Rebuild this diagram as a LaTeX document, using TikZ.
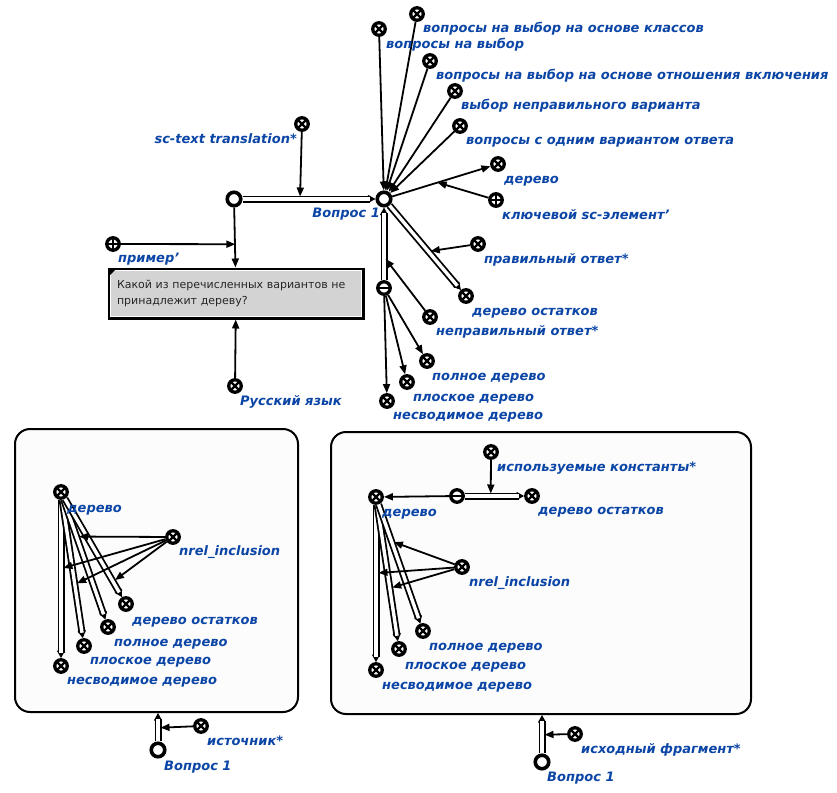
\documentclass[tikz,border=0pt]{standalone}
\usepackage{fontspec}
\setmainfont{DejaVu Sans}
\usetikzlibrary{arrows.meta,calc}
\definecolor{lbl}{HTML}{0B45A6}
\definecolor{boxgray}{HTML}{D3D3D3}
\definecolor{contfill}{HTML}{FCFCFC}
\tikzset{
  ringnode/.style={circle,draw=black,line width=3.6pt,fill=white,minimum size=13.5pt,inner sep=0pt},
  smallring/.style={circle,draw=black,line width=3.3pt,fill=white,minimum size=12.5pt,inner sep=0pt},
  clsnode/.style={smallring,path picture={
     \draw[line width=2.2pt]
      ([shift={(-3.4pt,-3.4pt)}]path picture bounding box.center) -- ([shift={(3.4pt,3.4pt)}]path picture bounding box.center)
      ([shift={(-3.4pt,3.4pt)}]path picture bounding box.center) -- ([shift={(3.4pt,-3.4pt)}]path picture bounding box.center);}},
  plusnode/.style={smallring,path picture={
     \draw[line width=2pt]
      ([xshift=-8pt]path picture bounding box.center) -- ([xshift=8pt]path picture bounding box.center)
      ([yshift=-8pt]path picture bounding box.center) -- ([yshift=8pt]path picture bounding box.center);}},
  minusnode/.style={smallring,path picture={
     \draw[line width=2pt]
      ([xshift=-8pt]path picture bounding box.center) -- ([xshift=8pt]path picture bounding box.center);}},
  lab/.style={text=lbl,font=\fontsize{13}{15}\selectfont\bfseries\itshape,inner sep=0pt,anchor=mid west,yshift=-2.5pt},
  labr/.style={lab,anchor=mid east},
  arr/.style={draw=black,line width=1.8pt,-{Triangle[length=9pt,width=7pt]}},
  arrm/.style={arr,shorten >=2.5pt},
  dblt/.style={draw=black,line width=1pt,-{Triangle[length=7.5pt,width=8pt]}},
  dblo/.style={draw=black,line width=7pt,shorten >=5.5pt},
  dbli/.style={draw=white,line width=3.4pt,shorten >=5.5pt},
  container/.style={draw=black,line width=2pt,fill=contfill,rounded corners=15pt,inner sep=0pt},
  tbox/.style={draw=black,line width=3pt,fill=boxgray,inner sep=0pt,
     font=\fontsize{11}{16}\selectfont,text=black!85}
}
\newcommand{\dblarc}[2]{%
  \draw[dblt] (#1) -- (#2);
  \draw[dblo] (#1) -- (#2);
  \draw[dbli] (#1) -- (#2);}
\begin{document}
\begin{tikzpicture}[x=1pt,y=-1pt]
\useasboundingbox (0,0) rectangle (837,792);
\fill[white] (0,0) rectangle (837,792);

% containers
\node[container,minimum width=283pt,minimum height=283pt] (cb1) at (156.5,570.5) {};
\node[container,minimum width=420pt,minimum height=282pt] (cb2) at (541,573) {};

% ---------- top cluster ----------
\node[ringnode] (V1) at (384,199) {};
\node[ringnode] (q0) at (234,199) {};
\node[clsnode] (sct) at (302,124) {};
\node[plusnode] (pr) at (113,244) {};
\node[tbox,minimum width=254pt,minimum height=49pt,text width=238pt,align=left] (tx) at (236,293.5)
  {Какой из перечисленных вариантов не\\принадлежит дереву?};
\draw[white,line width=1pt] ($(tx.north west)+(3.2,3.2)$) rectangle ($(tx.south east)+(-3.2,-3.2)$);
\fill[black] ($(tx.north west)+(2,2)$) -- ++(6,0) -- ++(-6,6) -- cycle;
\node[clsnode] (rus) at (235,386) {};
\node[clsnode] (a1) at (379,29) {};
\node[clsnode] (a2) at (417,14) {};
\node[clsnode] (a3) at (430,61) {};
\node[clsnode] (a4) at (455,91) {};
\node[clsnode] (a5) at (460,126) {};
\node[clsnode] (der) at (498,164) {};
\node[plusnode] (key) at (496,200) {};
\node[clsnode] (ost) at (466,296) {};
\node[clsnode] (prav) at (478,244) {};
\node[minusnode] (t1) at (384,288) {};
\node[clsnode] (nepr) at (430,317) {};
\node[clsnode] (pol) at (427,361) {};
\node[clsnode] (plo) at (407,382) {};
\node[clsnode] (nes) at (387,401) {};

\coordinate (msct) at ($(q0)!0.44!(V1)$);
\coordinate (mpr) at ($(q0)!0.66!(tx.north)$);
\coordinate (mkey) at ($(V1)!0.47!(der)$);
\coordinate (mprav) at ($(V1)!0.54!(ost)$);
\coordinate (mnepr) at ($(t1)!0.35!(V1)$);

\dblarc{q0}{V1}
\dblarc{V1}{ost}
\dblarc{t1}{V1}
\draw[arrm] (sct) -- (msct);
\draw[arr] (q0) -- (tx);
\draw[arr] (pr) -- (mpr);
\draw[arr] (rus) -- (tx);
\foreach \n in {a1,a2,a3,a4,a5} \draw[arr] (\n) -- (V1);
\draw[arr] (V1) -- (der);
\draw[arr] (key) -- (mkey);
\draw[arrm] (prav) -- (mprav);
\draw[arrm] (nepr) -- (mnepr);
\draw[arr] (t1) -- (pol);
\draw[arr] (t1) -- (plo);
\draw[arr] (t1) -- (nes);

\node[labr] (lV1) at (380,212) {Вопрос 1};
\node[labr] (lsct) at (297,138) {sc-text translation*};
\node[lab] (lpr) at (118,257) {пример'};
\node[lab] (lrus) at (240,400) {Русский язык};
\node[lab] (la1) at (386,43) {вопросы на выбор};
\node[lab] (la2) at (423,27) {вопросы на выбор на основе классов};
\node[lab] (la3) at (436,74) {вопросы на выбор на основе отношения включения};
\node[lab] (la4) at (461,104) {выбор неправильного варианта};
\node[lab] (la5) at (466,139) {вопросы с одним вариантом ответа};
\node[lab] (lder) at (504,178) {дерево};
\node[lab] (lkey) at (502,214) {ключевой sc-элемент'};
\node[lab] (lprav) at (484,258) {правильный ответ*};
\node[lab] (lost) at (472,310) {дерево остатков};
\node[lab] (lnepr) at (436,330) {неправильный ответ*};
\node[lab] (lpol) at (432,375) {полное дерево};
\node[lab] (lplo) at (413,396) {плоское дерево};
\node[lab] (lnes) at (393,414) {несводимое дерево};

% ---------- bottom-left ----------
\node[clsnode] (d1) at (61,492) {};
\node[clsnode] (nr1) at (173,537) {};
\node[clsnode] (o1) at (126,604) {};
\node[clsnode] (f1) at (108,627) {};
\node[clsnode] (p1) at (84,646) {};
\node[clsnode] (n1) at (61,666) {};
\node[ringnode] (q1) at (158,750) {};
\node[clsnode] (ist) at (201,726) {};
\coordinate (cb1b) at (cb1.south -| q1);

\dblarc{d1}{n1}
\dblarc{d1}{p1}
\dblarc{d1}{f1}
\dblarc{d1}{o1}
\coordinate (mn1) at ($(d1)!0.44!(n1)$);
\coordinate (mp1) at ($(d1)!0.6!(p1)$);
\coordinate (mf1) at ($(d1)!0.33!(f1)$);
\coordinate (mo1) at ($(d1)!0.8!(o1)$);
\draw[arrm] (nr1) -- (mn1);
\draw[arrm] (nr1) -- (mp1);
\draw[arrm] (nr1) -- (mf1);
\draw[arrm] (nr1) -- (mo1);
\dblarc{q1}{cb1b}
\coordinate (mq1) at ($(q1)!0.6!(cb1b)$);
\draw[arrm] (ist) -- (mq1);

\node[lab] (ld1) at (67,507) {дерево};
\node[lab] (lnr1) at (179,550) {nrel\_inclusion};
\node[lab] (lo1) at (132,619) {дерево остатков};
\node[lab] (lf1) at (114,641) {полное дерево};
\node[lab] (lp1) at (90,659) {плоское дерево};
\node[lab] (ln1) at (67,679) {несводимое дерево};
\node[lab] (list) at (207,740) {источник*};
\node[lab] (lq1) at (164,765) {Вопрос 1};

% ---------- bottom-right ----------
\node[clsnode] (k2) at (491,452) {};
\node[clsnode] (d2) at (376,497) {};
\node[minusnode] (t2) at (457,496) {};
\node[clsnode] (o2) at (532,496) {};
\node[clsnode] (nr2) at (462,567) {};
\node[clsnode] (f2) at (423,631) {};
\node[clsnode] (p2) at (399,649) {};
\node[clsnode] (n2) at (376,670) {};
\node[ringnode] (q2) at (542,762) {};
\node[clsnode] (isx) at (575,734) {};
\coordinate (cb2b) at (cb2.south -| q2);

\draw[arr] (t2) -- (d2);
\dblarc{t2}{o2}
\coordinate (mt2) at ($(t2)!0.45!(o2)$);
\draw[arrm] (k2) -- (mt2);
\dblarc{d2}{n2}
\dblarc{d2}{p2}
\dblarc{d2}{f2}
\coordinate (mn2) at ($(d2)!0.44!(n2)$);
\coordinate (mp2) at ($(d2)!0.6!(p2)$);
\coordinate (mf2) at ($(d2)!0.33!(f2)$);
\draw[arrm] (nr2) -- (mn2);
\draw[arrm] (nr2) -- (mp2);
\draw[arrm] (nr2) -- (mf2);
\dblarc{q2}{cb2b}
\coordinate (mq2) at ($(q2)!0.58!(cb2b)$);
\draw[arrm] (isx) -- (mq2);

\node[lab] (lk2) at (497,466) {используемые константы*};
\node[lab] (ld2) at (382,511) {дерево};
\node[lab] (lo2) at (538,509) {дерево остатков};
\node[lab] (lnr2) at (469,581) {nrel\_inclusion};
\node[lab] (lf2) at (429,645) {полное дерево};
\node[lab] (lp2) at (405,664) {плоское дерево};
\node[lab] (ln2) at (382,684) {несводимое дерево};
\node[lab] (lisx) at (581,748) {исходный фрагмент*};
\node[lab] (lq2) at (547,776) {Вопрос 1};
\end{tikzpicture}
\end{document}
